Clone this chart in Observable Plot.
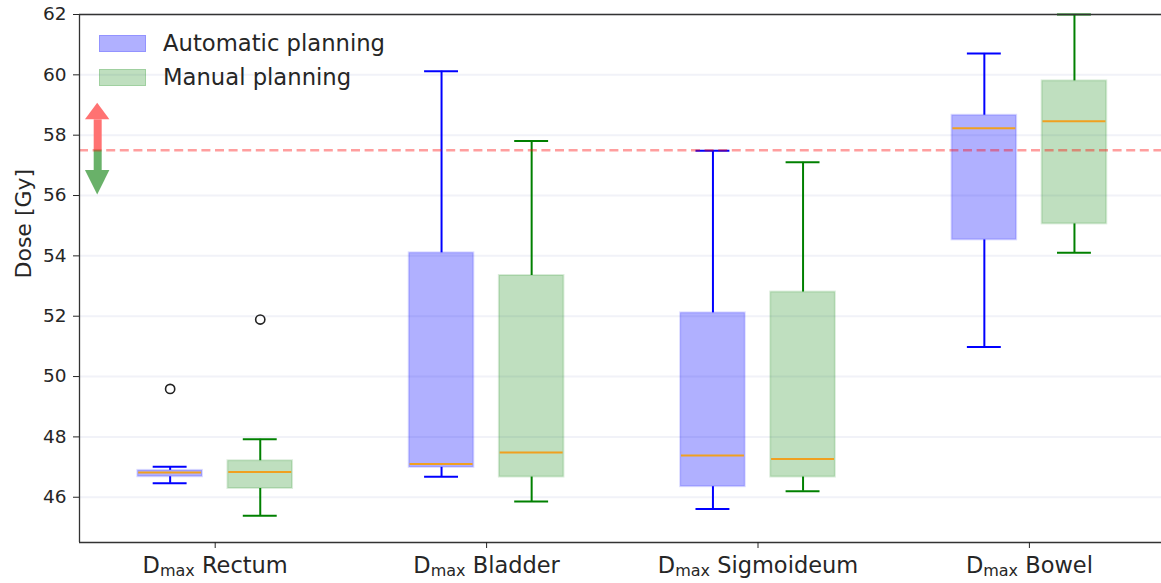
<!DOCTYPE html>
<html>
<head>
<meta charset="utf-8">
<script src="https://cdn.jsdelivr.net/npm/d3@7"></script>
<script src="https://cdn.jsdelivr.net/npm/@observablehq/plot@0.6"></script>
<style>
  html, body { margin: 0; padding: 0; background: #fff; overflow: hidden; }
  #wrap { position: relative; width: 1161px; height: 583px; }
  #wrap svg { position: absolute; left: 0; top: 0; }
  .key { position: absolute; left: 99px; font-family: "DejaVu Sans", sans-serif; font-size: 22.7px; color: #262626; }
  .key .sw { position: absolute; left: 0; width: 45px; height: 15px; }
  .key .lbl { position: absolute; left: 64px; top: -4px; white-space: nowrap; line-height: 24px; }
</style>
</head>
<body>
<div id="wrap"></div>
<script>
// Organs at risk (x categories)
const organs = ["Rectum", "Bladder", "Sigmoideum", "Bowel"];

// Automatic planning: box-plot statistics per organ (Gy)
const autoLow    = [46.46, 46.68, 45.61, 50.98];
const autoQ1     = [46.68, 46.99, 46.35, 54.53];
const autoMedian = [46.82, 47.10, 47.38, 58.23];
const autoQ3     = [46.89, 54.10, 52.11, 58.66];
const autoHigh   = [47.01, 60.12, 57.48, 60.71];
const autoOutliers = [[49.59], [], [], []];

// Manual planning: box-plot statistics per organ (Gy)
const manualLow    = [45.39, 45.86, 46.20, 54.10];
const manualQ1     = [46.29, 46.67, 46.67, 55.06];
const manualMedian = [46.84, 47.48, 47.27, 58.46];
const manualQ3     = [47.21, 53.35, 52.80, 59.80];
const manualHigh   = [47.92, 57.81, 57.10, 62.00];
const manualOutliers = [[51.89], [], [], []];

// Dose constraint line and the up/down indicator arrows
const doseLimit = 57.5;
const upArrowHeadBase = 58.51, upArrowTip = 59.06;
const downArrowHeadBase = 56.83, downArrowTip = 56.02;

const yTicks = [46, 48, 50, 52, 54, 56, 58, 60, 62];
const yDomain = [44.5, 62];
const seriesNames = ["Automatic planning", "Manual planning"];

// Layout (in x-scale units: one organ slot = 1)
const offset = 0.166, boxW = 0.238, capW = 0.125;
const arrowX = 0.567, headHalf = 0.045;

const AUTO = "#0000ff", MANUAL = "#008000";

function rows(low, q1, med, q3, high, shift) {
  return organs.map((o, i) => ({
    organ: o, pos: i + 1 + shift,
    low: low[i], q1: q1[i], median: med[i], q3: q3[i], high: high[i]
  }));
}
const autoRows = rows(autoLow, autoQ1, autoMedian, autoQ3, autoHigh, -offset);
const manualRows = rows(manualLow, manualQ1, manualMedian, manualQ3, manualHigh, offset);

const outlierRows = [
  ...autoOutliers.flatMap((vs, i) => vs.map(v => ({pos: i + 1 - offset, v}))),
  ...manualOutliers.flatMap((vs, i) => vs.map(v => ({pos: i + 1 + offset, v})))
];

function boxMarks(data, color, fillOpacity) {
  return [
    Plot.rect(data, {
      x1: d => d.pos - boxW / 2, x2: d => d.pos + boxW / 2, y1: "q1", y2: "q3",
      fill: color, fillOpacity, stroke: color, strokeOpacity: 0.14, strokeWidth: 2
    }),
    Plot.ruleX(data, {x: "pos", y1: "q3", y2: "high", stroke: color, strokeWidth: 2}),
    Plot.ruleX(data, {x: "pos", y1: "low", y2: "q1", stroke: color, strokeWidth: 2}),
    Plot.ruleY(data, {y: "high", x1: d => d.pos - capW / 2, x2: d => d.pos + capW / 2, stroke: color, strokeWidth: 2}),
    Plot.ruleY(data, {y: "low", x1: d => d.pos - capW / 2, x2: d => d.pos + capW / 2, stroke: color, strokeWidth: 2}),
    Plot.ruleY(data, {y: "median", x1: d => d.pos - boxW / 2 + 0.003, x2: d => d.pos + boxW / 2 - 0.003, stroke: "#f0a020", strokeWidth: 2})
  ];
}

const upColor = "#ff7272", downColor = "#69b169";

const chart = Plot.plot({
  width: 1161,
  height: 583,
  marginTop: 14,
  marginBottom: 41,
  marginLeft: 79,
  marginRight: 0,
  x: {type: "linear", domain: [0.5, 4.5], range: [79, 1164.6]},
  y: {domain: yDomain},
  style: {fontFamily: "DejaVu Sans, sans-serif", color: "#262626", background: "transparent", overflow: "hidden"},
  marks: [
    // light horizontal grid
    Plot.ruleY(yTicks, {stroke: "#f1f2f8", strokeWidth: 2}),
    // indicator arrows
    Plot.ruleX([arrowX], {y1: doseLimit, y2: upArrowHeadBase, stroke: upColor, strokeWidth: 8}),
    Plot.areaX([{y: upArrowHeadBase, a: arrowX - headHalf, b: arrowX + headHalf}, {y: upArrowTip, a: arrowX, b: arrowX}],
      {y: "y", x1: "a", x2: "b", fill: upColor}),
    Plot.ruleX([arrowX], {y1: doseLimit, y2: downArrowHeadBase, stroke: downColor, strokeWidth: 8}),
    Plot.areaX([{y: downArrowHeadBase, a: arrowX - headHalf, b: arrowX + headHalf}, {y: downArrowTip, a: arrowX, b: arrowX}],
      {y: "y", x1: "a", x2: "b", fill: downColor}),
    // boxes
    ...boxMarks(autoRows, AUTO, 0.31),
    ...boxMarks(manualRows, MANUAL, 0.25),
    Plot.dot(outlierRows, {x: "pos", y: "v", r: 4.6, stroke: "#222", strokeWidth: 1.6, fill: "none"}),
    // dose constraint
    Plot.ruleY([doseLimit], {stroke: "red", strokeOpacity: 0.38, strokeWidth: 2.6, strokeDasharray: "9,4.6"}),
    // frame lines
    Plot.ruleY([yDomain[1]], {stroke: "#333", strokeWidth: 1.3}),
    Plot.ruleY([yDomain[0]], {stroke: "#333", strokeWidth: 1.3}),
    Plot.ruleX([0.5], {stroke: "#333", strokeWidth: 1.3}),
    // axes
    Plot.axisY({ticks: yTicks, tickSize: 6, tickPadding: 7, fontSize: 18.5, label: null, tickFormat: d => String(d)}),
    Plot.axisX({ticks: [1, 2, 3, 4], tickSize: 6, tickPadding: 9, fontSize: 22.5, label: null, tickFormat: i => organs[i - 1]}),
    Plot.text(["Dose [Gy]"], {frameAnchor: "left", dx: -56, rotate: -90, fontSize: 22, fill: "#262626"})
  ]
});

// "D" with subscript "max" in front of each organ label
const NS = "http://www.w3.org/2000/svg";
chart.querySelectorAll('g[aria-label="x-axis tick label"] text').forEach(t => {
  const name = t.textContent;
  t.textContent = "";
  const d = document.createElementNS(NS, "tspan");
  d.textContent = "D";
  const sub = document.createElementNS(NS, "tspan");
  sub.textContent = "max";
  sub.setAttribute("font-size", "16");
  sub.setAttribute("dy", "3");
  const rest = document.createElementNS(NS, "tspan");
  rest.textContent = "\u00a0" + name;
  rest.setAttribute("dy", "-3");
  t.append(d, sub, rest);
});

const wrap = document.getElementById("wrap");
wrap.appendChild(chart);

// Legend inside the top-left of the plot area
const keyStyles = [
  {top: 35, bg: "rgba(0,0,255,0.31)", border: "rgba(0,0,255,0.16)"},
  {top: 69, bg: "rgba(0,128,0,0.25)", border: "rgba(0,128,0,0.16)"}
];
seriesNames.forEach((name, i) => {
  const k = document.createElement("div");
  k.className = "key";
  k.style.top = keyStyles[i].top + "px";
  const sw = document.createElement("div");
  sw.className = "sw";
  sw.style.background = keyStyles[i].bg;
  sw.style.border = "1px solid " + keyStyles[i].border;
  const lbl = document.createElement("div");
  lbl.className = "lbl";
  lbl.textContent = name;
  k.append(sw, lbl);
  wrap.appendChild(k);
});
</script>
</body>
</html>
